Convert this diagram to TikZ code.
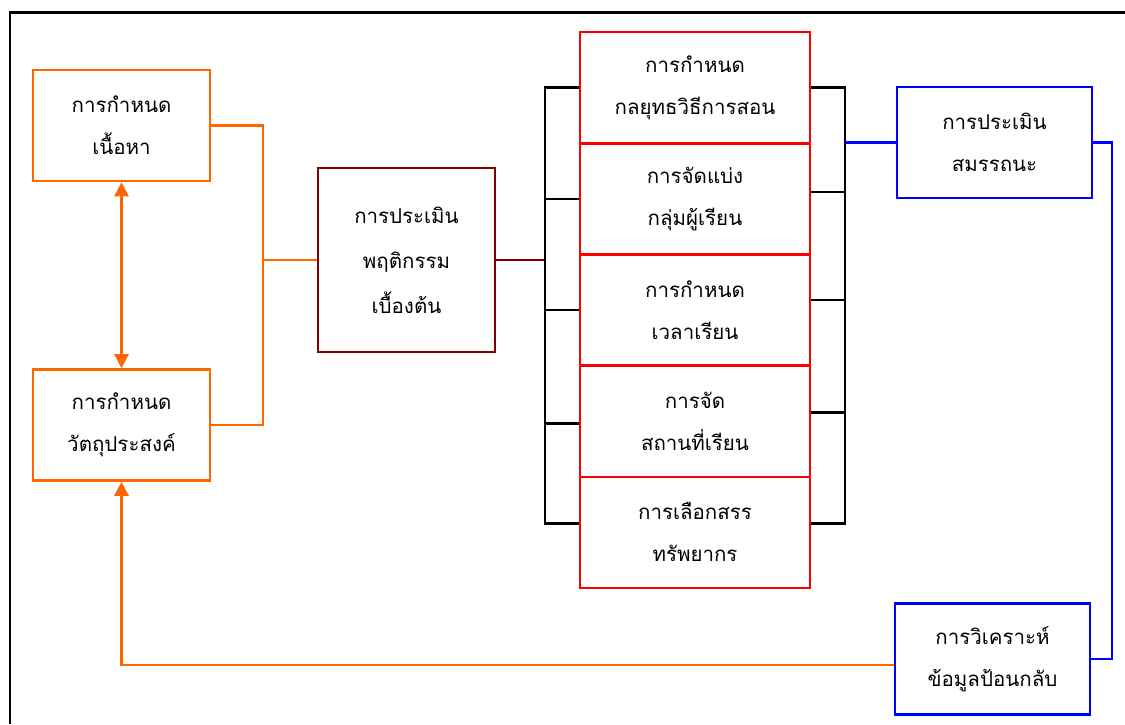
\documentclass[tikz,border=0pt]{standalone}
\usepackage{fontspec}
\newfontfamily\thaifont[Script=Thai]{Loma}
\usetikzlibrary{arrows.meta,calc}
\definecolor{orng}{RGB}{255,102,0}
\definecolor{darkred}{RGB}{128,0,0}
\tikzset{
  box/.style={draw, line width=2.6pt, align=center, inner sep=0pt,
    font=\thaifont\fontsize{20.5}{42}\selectfont},
  orangebox/.style={box, draw=orng, minimum width=177pt, minimum height=111pt},
  redbox/.style={box, draw=red, minimum width=230pt, minimum height=111.2pt},
  bluebox/.style={box, draw=blue, minimum width=195pt, minimum height=111pt},
  link/.style={line width=2.6pt},
  tri/.style={-{Triangle[width=14pt,length=14pt]}}
}

\begin{document}
\begin{tikzpicture}[x=1pt,y=-1pt]
\useasboundingbox (0,0) rectangle (1125,724);
% frame
\draw[line width=2.6pt] (10,724) -- (10,12.5) -- (1125,12.5);

% left side
\node[orangebox] (content) at (121.5,125.5) {การกำหนด\\เนื้อหา};
\node[orangebox] (objective) at (121.5,425) {การกำหนด\\วัตถุประสงค์};
\node[box, draw=darkred, minimum width=177pt, minimum height=184pt,
  font=\thaifont\fontsize{20.5}{45}\selectfont] (pretest) at (406.5,260)
  {การประเมิน\\พฤติกรรม\\เบื้องต้น};

% middle column
\node[redbox] (r1) at (695,87.6) {การกำหนด\\กลยุทธวิธีการสอน};
\node[redbox] (r2) at (695,198.8) {การจัดแบ่ง\\กลุ่มผู้เรียน};
\node[redbox] (r3) at (695,310) {การกำหนด\\เวลาเรียน};
\node[redbox] (r4) at (695,421.2) {การจัด\\สถานที่เรียน};
\node[redbox] (r5) at (695,532.4) {การเลือกสรร\\ทรัพยากร};

% right side
\node[bluebox] (compet) at (994.5,142.5) {การประเมิน\\สมรรถนะ};
\node[bluebox] (feedback) at (992.5,659) {การวิเคราะห์\\ข้อมูลป้อนกลับ};

\coordinate (oj) at (263,0);
\coordinate (lb) at (545,0);
\coordinate (rb) at (845,0);
\coordinate (bj) at (1112,0);
% tick ends on the column
\coordinate (l4) at ([yshift=-2pt]r4.west);
\coordinate (l5) at ([yshift=9pt]r5.west);
\coordinate (e2) at ([yshift=7pt]r2.east);
\coordinate (e3) at ([yshift=10pt]r3.east);
\coordinate (e4) at ([yshift=9pt]r4.east);
\coordinate (e5) at ([yshift=9pt]r5.east);
\coordinate (fb) at ([yshift=-6pt]feedback.west);

% orange connectors
\draw[orng, link, {Triangle[width=14pt,length=14pt]}-{Triangle[width=14pt,length=14pt]}]
  (content.south) -- (objective.north);
\draw[orng, link] (content.east) -| (oj |- objective.east) -- (objective.east);
\draw[orng, link] (oj |- pretest.west) -- (pretest.west);
\draw[orng, link, tri] (fb) -| (objective.south);

% pretest to bracket
\draw[darkred, link] (pretest.east) -- (lb |- pretest.east);

% left bracket
\draw[link] (r1.west) -- (lb |- r1.west) -- (lb |- l5) -- (l5);
\draw[link] (lb |- r2.west) -- (r2.west);
\draw[link] (lb |- r3.west) -- (r3.west);
\draw[link] (lb |- l4) -- (l4);

% right bracket
\draw[link] (r1.east) -- (rb |- r1.east) -- (rb |- e5) -- (e5);
\draw[link] (e2) -- (rb |- e2);
\draw[link] (e3) -- (rb |- e3);
\draw[link] (e4) -- (rb |- e4);

% blue connectors
\draw[blue, link] (rb |- compet.west) -- (compet.west);
\draw[blue, link] (compet.east) -- (bj |- compet.east) |- (feedback.east);
\end{tikzpicture}
\end{document}
